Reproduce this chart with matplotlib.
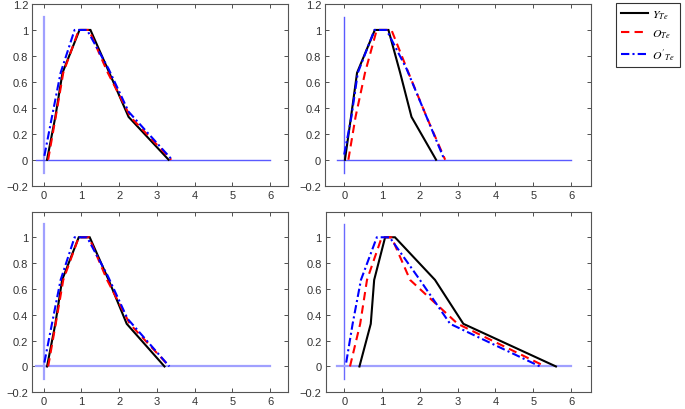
import matplotlib
matplotlib.use("Agg")
import matplotlib.pyplot as plt
from matplotlib.lines import Line2D

plt.rcParams['mathtext.fontset'] = 'stix'
plt.rcParams['font.family'] = ['Liberation Sans', 'DejaVu Sans']

# ---- data: (x, y) breakpoints for each panel ----
# Panel 1 (top-left)
p1_y_x = [0.09, 0.31, 0.50, 0.95, 1.24, 1.74, 2.25, 3.31]
p1_y_v = [0, 0.33, 0.67, 1, 1, 0.67, 0.33, 0]
p1_o_x = [0.12, 0.32, 0.52, 0.93, 1.20, 1.70, 2.30, 3.38]
p1_o_v = [0, 0.33, 0.67, 1, 1, 0.67, 0.33, 0]
p1_p_x = [0.02, 0.22, 0.45, 0.82, 1.15, 1.72, 2.25, 3.40]
p1_p_v = [0.03, 0.33, 0.67, 1, 1, 0.70, 0.37, 0]

# Panel 2 (top-right)
p2_y_x = [0.02, 0.18, 0.34, 0.81, 1.17, 1.48, 1.78, 2.43]
p2_y_v = [0, 0.33, 0.67, 1, 1, 0.67, 0.33, 0]
p2_o_x = [0.11, 0.30, 0.55, 0.86, 1.25, 1.70, 2.18, 2.67]
p2_o_v = [0, 0.33, 0.67, 1, 1, 0.67, 0.33, 0]
p2_p_x = [0.00, 0.19, 0.36, 0.80, 1.12, 1.65, 2.15, 2.65]
p2_p_v = [0.04, 0.33, 0.67, 1, 1, 0.70, 0.35, 0]

# Panel 3 (bottom-left)
p3_y_x = [0.09, 0.31, 0.49, 0.93, 1.22, 1.72, 2.20, 3.20]
p3_y_v = [0, 0.33, 0.67, 1, 1, 0.67, 0.33, 0]
p3_o_x = [0.12, 0.32, 0.52, 0.93, 1.20, 1.68, 2.28, 3.33]
p3_o_v = [0, 0.33, 0.67, 1, 1, 0.67, 0.33, 0]
p3_p_x = [0.02, 0.22, 0.45, 0.82, 1.15, 1.70, 2.22, 3.33]
p3_p_v = [0.03, 0.33, 0.67, 1, 1, 0.70, 0.37, 0]

# Panel 4 (bottom-right)
p4_y_x = [0.40, 0.70, 0.79, 1.08, 1.34, 2.40, 3.15, 5.60]
p4_y_v = [0, 0.33, 0.67, 1, 1, 0.67, 0.33, 0]
p4_o_x = [0.15, 0.42, 0.60, 0.99, 1.25, 1.74, 3.00, 5.32]
p4_o_v = [0, 0.33, 0.67, 1, 1, 0.67, 0.33, 0]
p4_p_x = [0.05, 0.22, 0.44, 0.86, 1.20, 2.00, 2.80, 5.18]
p4_p_v = [0.03, 0.33, 0.67, 1, 1, 0.67, 0.33, 0]

xticks = [0, 1, 2, 3, 4, 5, 6]
yticks_top = [-0.2, 0, 0.2, 0.4, 0.6, 0.8, 1, 1.2]
yticks_bot = [-0.2, 0, 0.2, 0.4, 0.6, 0.8, 1]
labels = [r"$Y_{Te}$", r"$O_{Te}$", r"$O'_{Te}$"]

panels = [
    (p1_y_x, p1_y_v, p1_o_x, p1_o_v, p1_p_x, p1_p_v),
    (p2_y_x, p2_y_v, p2_o_x, p2_o_v, p2_p_x, p2_p_v),
    (p3_y_x, p3_y_v, p3_o_x, p3_o_v, p3_p_x, p3_p_v),
    (p4_y_x, p4_y_v, p4_o_x, p4_o_v, p4_p_x, p4_p_v),
]

W, H = 685, 410
fig = plt.figure(figsize=(W / 100, H / 100), dpi=100)

# pixel boxes: (left, right, top, bottom)
boxes = [
    (32.3, 288.3, 5.0, 186.7),
    (325.3, 590.7, 5.0, 186.7),
    (32.3, 288.0, 212.7, 393.3),
    (325.8, 590.7, 212.7, 393.3),
]
xlims = [(-0.3, 6.48), (-0.5, 6.52), (-0.3, 6.47), (-0.49, 6.52)]
ylims = [(-0.2, 1.2), (-0.2, 1.2), (-0.2, 1.198), (-0.2, 1.198)]
vcols = [('#a0a0ff', 1.6), ('#5a5aff', 1.0), ('#a0a0ff', 1.6), ('#6a6aff', 1.0)]
hcols = [('#5a5aff', 1.0), ('#5a5aff', 1.0), ('#a0a0ff', 1.6), ('#a0a0ff', 1.6)]

for i, (b, d) in enumerate(zip(boxes, panels)):
    l, r, t, bt = b
    ax = fig.add_axes([l / W, 1 - bt / H, (r - l) / W, (bt - t) / H])
    ax.plot([0, 0], [-0.1, 1.1], color=vcols[i][0], lw=vcols[i][1])
    ax.plot([-0.2, 6], [0, 0], color=hcols[i][0], lw=hcols[i][1])
    yx, yv, ox, ov, px, pv = d
    ax.plot(yx, yv, color='black', lw=1.5, solid_joinstyle='miter')
    ax.plot(ox, ov, color='#ff0000', lw=1.5, ls=(0, (4, 2.5)))
    ax.plot(px, pv, color='#0000ff', lw=1.5, ls=(0, (4, 1.5, 1, 1.5)))
    ax.set_xlim(*xlims[i])
    ax.set_ylim(*ylims[i])
    ax.set_xticks(xticks)
    ax.set_xticklabels([str(v) for v in xticks])
    yt = yticks_top if i < 2 else yticks_bot
    ax.set_yticks(yt)
    ax.set_yticklabels(['\u22120.2' if v == -0.2 else ('0' if v == 0 else ('1' if v == 1 else f'{v:g}')) for v in yt])
    ax.tick_params(direction='in', length=3, width=0.6, top=True, right=True,
                   labelsize=8, colors='#333333', pad=3)
    for s in ax.spines.values():
        s.set_color('#555555')
        s.set_linewidth(0.8)

handles = [
    Line2D([], [], color='black', lw=1.5),
    Line2D([], [], color='#ff0000', lw=1.5, ls=(0, (4, 2.5))),
    Line2D([], [], color='#0000ff', lw=1.5, ls=(0, (4, 1.5, 1, 1.5))),
]
leg = fig.legend(handles, labels, loc='upper left',
                 bbox_to_anchor=(615.7 / W, 1 - 4 / H), bbox_transform=fig.transFigure,
                 frameon=True, fancybox=False, fontsize=8.5, handlelength=2.3,
                 borderpad=0.45, labelspacing=0.55, handletextpad=0.3, borderaxespad=0)
leg.get_frame().set_edgecolor('black')
leg.get_frame().set_linewidth(0.8)

fig.savefig('out.png', dpi=100)
